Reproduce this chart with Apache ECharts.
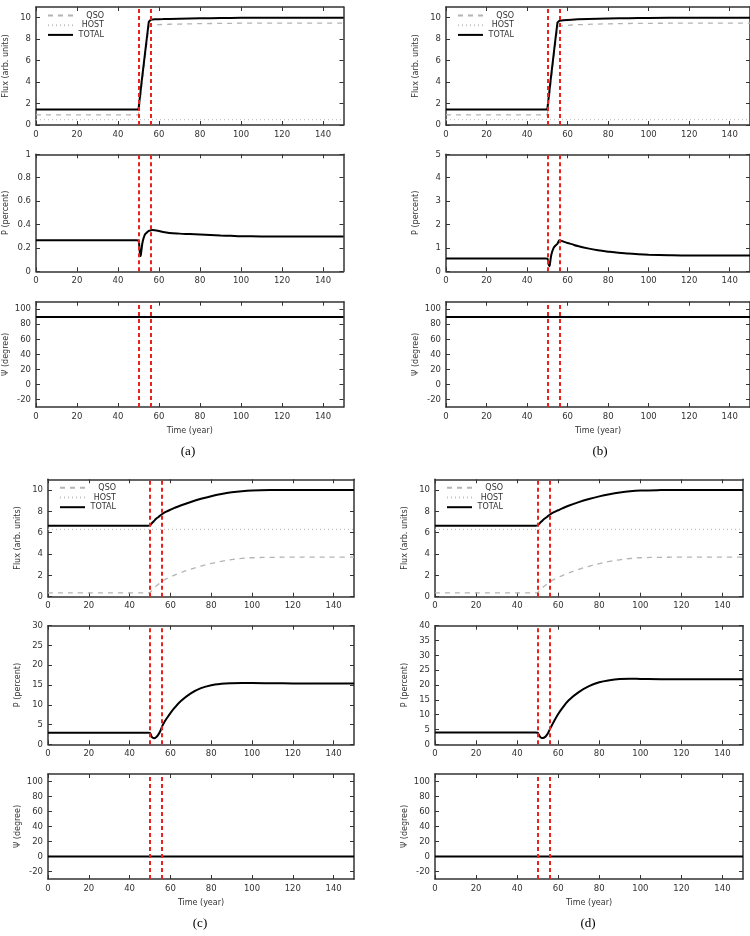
<!DOCTYPE html>
<html lang="en">
<head>
<meta charset="UTF-8" />
<title>QSO flux, polarisation degree and angle</title>
<script src="https://cdn.jsdelivr.net/npm/echarts@6/dist/echarts.min.js"></script>
<style>
  * { margin: 0; padding: 0; box-sizing: border-box; }
  body { background: #fff; overflow: hidden; }
  #chart { width: 750px; height: 936px; }
</style>
</head>
<body>
<div id="chart"></div>
<script>
// time samples (year), shared by every curve
const years = [0, 49, 50, 50.5, 51, 51.5, 52, 53, 54, 55, 56, 57, 58, 60, 62, 65, 70, 75, 80, 85, 90, 95, 100, 110, 120, 130, 140, 150];
const psiYears = [0, 150];
// the two red dashed markers
const eventYears = [50, 56];

// panel (a)
const qsoA   = [0.95, 0.95, 0.95, 1.8, 2.6, 3.5, 4.3, 5.9, 7.5, 9.1, 9.32, 9.34, 9.35, 9.36, 9.37, 9.39, 9.41, 9.43, 9.45, 9.46, 9.47, 9.48, 9.49, 9.5, 9.5, 9.5, 9.5, 9.5];
const hostA  = [0.5, 0.5, 0.5, 0.5, 0.5, 0.5, 0.5, 0.5, 0.5, 0.5, 0.5, 0.5, 0.5, 0.5, 0.5, 0.5, 0.5, 0.5, 0.5, 0.5, 0.5, 0.5, 0.5, 0.5, 0.5, 0.5, 0.5, 0.5];
const totalA = [1.45, 1.45, 1.45, 2.3, 3.1, 4.0, 4.8, 6.4, 8.0, 9.6, 9.82, 9.84, 9.85, 9.86, 9.87, 9.89, 9.91, 9.93, 9.95, 9.96, 9.97, 9.98, 9.99, 10, 10, 10, 10, 10];
const pA     = [0.265, 0.265, 0.26, 0.19, 0.13, 0.19, 0.25, 0.31, 0.33, 0.345, 0.35, 0.352, 0.35, 0.345, 0.336, 0.328, 0.322, 0.318, 0.314, 0.31, 0.306, 0.303, 0.30, 0.298, 0.297, 0.297, 0.297, 0.297];
const psiA   = [89.8, 89.8];

// panel (b)
const qsoB   = [0.95, 0.95, 0.95, 1.8, 2.6, 3.5, 4.3, 5.9, 7.5, 9.05, 9.22, 9.24, 9.26, 9.29, 9.32, 9.35, 9.38, 9.41, 9.43, 9.45, 9.46, 9.47, 9.48, 9.49, 9.5, 9.5, 9.5, 9.5];
const hostB  = [0.5, 0.5, 0.5, 0.5, 0.5, 0.5, 0.5, 0.5, 0.5, 0.5, 0.5, 0.5, 0.5, 0.5, 0.5, 0.5, 0.5, 0.5, 0.5, 0.5, 0.5, 0.5, 0.5, 0.5, 0.5, 0.5, 0.5, 0.5];
const totalB = [1.45, 1.45, 1.45, 2.3, 3.1, 4.0, 4.8, 6.4, 8.0, 9.55, 9.72, 9.74, 9.76, 9.79, 9.82, 9.85, 9.88, 9.91, 9.93, 9.95, 9.96, 9.97, 9.98, 9.99, 10, 10, 10, 10];
const pB     = [0.55, 0.55, 0.54, 0.35, 0.22, 0.45, 0.72, 0.98, 1.1, 1.18, 1.33, 1.3, 1.27, 1.21, 1.16, 1.08, 0.98, 0.9, 0.84, 0.79, 0.76, 0.73, 0.71, 0.69, 0.68, 0.68, 0.68, 0.68];
const psiB   = [89.8, 89.8];

// panel (c)
const qsoC   = [0.35, 0.35, 0.38, 0.5, 0.6, 0.7, 0.8, 1.0, 1.15, 1.3, 1.45, 1.57, 1.67, 1.85, 2.02, 2.25, 2.58, 2.87, 3.12, 3.32, 3.48, 3.59, 3.65, 3.69, 3.7, 3.7, 3.7, 3.7];
const hostC  = [6.3, 6.3, 6.3, 6.3, 6.3, 6.3, 6.3, 6.3, 6.3, 6.3, 6.3, 6.3, 6.3, 6.3, 6.3, 6.3, 6.3, 6.3, 6.3, 6.3, 6.3, 6.3, 6.3, 6.3, 6.3, 6.3, 6.3, 6.3];
const totalC = [6.65, 6.65, 6.68, 6.8, 6.9, 7.0, 7.1, 7.3, 7.45, 7.6, 7.75, 7.87, 7.97, 8.15, 8.32, 8.55, 8.88, 9.17, 9.42, 9.62, 9.78, 9.89, 9.95, 9.99, 10, 10, 10, 10];
const pC     = [2.95, 2.95, 2.9, 2.3, 1.8, 1.6, 1.55, 1.8, 2.4, 3.3, 4.6, 5.6, 6.4, 7.9, 9.2, 10.9, 12.9, 14.2, 14.95, 15.3, 15.45, 15.5, 15.5, 15.45, 15.4, 15.38, 15.35, 15.35];
const psiC   = [0, 0];

// panel (d)
const qsoD   = [0.35, 0.35, 0.38, 0.48, 0.58, 0.68, 0.77, 0.95, 1.1, 1.25, 1.4, 1.52, 1.62, 1.8, 1.98, 2.22, 2.56, 2.85, 3.1, 3.3, 3.46, 3.58, 3.65, 3.69, 3.7, 3.7, 3.7, 3.7];
const hostD  = [6.3, 6.3, 6.3, 6.3, 6.3, 6.3, 6.3, 6.3, 6.3, 6.3, 6.3, 6.3, 6.3, 6.3, 6.3, 6.3, 6.3, 6.3, 6.3, 6.3, 6.3, 6.3, 6.3, 6.3, 6.3, 6.3, 6.3, 6.3];
const totalD = [6.65, 6.65, 6.68, 6.78, 6.88, 6.98, 7.07, 7.25, 7.4, 7.55, 7.7, 7.82, 7.92, 8.1, 8.28, 8.52, 8.86, 9.15, 9.4, 9.6, 9.76, 9.88, 9.95, 9.99, 10, 10, 10, 10];
const pD     = [3.95, 3.95, 3.9, 3.3, 2.7, 2.3, 2.1, 2.2, 2.7, 3.7, 5.2, 6.5, 7.8, 10.2, 12.2, 14.8, 17.6, 19.6, 20.9, 21.6, 22.0, 22.1, 22.05, 21.95, 21.95, 21.95, 21.95, 21.95];
const psiD   = [0, 0];

// tick labels
const timeTicks = [0, 20, 40, 60, 80, 100, 120, 140];
const fluxTicks = [0, 2, 4, 6, 8, 10];
const psiTicks = [-20, 0, 20, 40, 60, 80, 100];
const pTicksA = [0, 0.2, 0.4, 0.6, 0.8, 1];
const pTicksB = [0, 1, 2, 3, 4, 5];
const pTicksC = [0, 5, 10, 15, 20, 25, 30];
const pTicksD = [0, 5, 10, 15, 20, 25, 30, 35, 40];

const panels = [
  { tag: '(a)', left: 36, width: 307.5, tops: [7, 154.3, 301.7], heights: [118, 117, 105.3], tagPos: [188, 452],
    qso: qsoA, host: hostA, total: totalA, p: pA, psi: psiA, pTicks: pTicksA, smoothFlux: false },
  { tag: '(b)', left: 446, width: 308, tops: [7, 154.3, 301.7], heights: [118, 117, 105.3], tagPos: [600, 452],
    qso: qsoB, host: hostB, total: totalB, p: pB, psi: psiB, pTicks: pTicksB, smoothFlux: false },
  { tag: '(c)', left: 48, width: 306, tops: [479.3, 625.7, 774], heights: [117.4, 118.6, 105], tagPos: [200, 924],
    qso: qsoC, host: hostC, total: totalC, p: pC, psi: psiC, pTicks: pTicksC, smoothFlux: true },
  { tag: '(d)', left: 435, width: 308, tops: [479.3, 625.7, 774], heights: [117.4, 118.6, 105], tagPos: [588, 924],
    qso: qsoD, host: hostD, total: totalD, p: pD, psi: psiD, pTicks: pTicksD, smoothFlux: true }
];

const axisColor = '#333';
const textColor = '#333';
const fontFamily = 'DejaVu Sans';

function pairs(xs, ys) {
  return xs.map((t, i) => [t, ys[i]]);
}

const grid = [], xAxis = [], yAxis = [], series = [], legend = [], graphic = [];

function addGrid(p, row, yMin, yMax, ticks, yName, lastRow) {
  const g = grid.length;
  grid.push({ left: p.left, top: p.tops[row], width: p.width, height: p.heights[row] });
  const line = { onZero: false, lineStyle: { color: axisColor, width: 1.5 } };
  const tick = { inside: true, length: 4, lineStyle: { color: axisColor, width: 1 } };
  xAxis.push({
    gridIndex: g, type: 'value', position: 'bottom', min: 0, max: 150,
    name: lastRow ? 'Time (year)' : '', nameLocation: 'middle', nameGap: 20,
    nameTextStyle: { fontFamily, fontSize: 8, color: textColor },
    axisLine: line, axisTick: Object.assign({ customValues: timeTicks }, tick),
    axisLabel: { customValues: timeTicks, margin: 5, fontFamily, fontSize: 8.5, color: textColor },
    splitLine: { show: false }
  });
  xAxis.push({
    gridIndex: g, type: 'value', position: 'top', min: 0, max: 150,
    axisLine: line, axisTick: Object.assign({ customValues: timeTicks }, tick),
    axisLabel: { show: false }, splitLine: { show: false }
  });
  yAxis.push({
    gridIndex: g, type: 'value', position: 'left', min: yMin, max: yMax,
    name: yName, nameLocation: 'middle', nameGap: 26,
    nameTextStyle: { fontFamily, fontSize: 8, color: textColor },
    axisLine: line, axisTick: Object.assign({ customValues: ticks }, tick),
    axisLabel: { customValues: ticks, margin: 5, fontFamily, fontSize: 8.5, color: textColor },
    splitLine: { show: false }
  });
  yAxis.push({
    gridIndex: g, type: 'value', position: 'right', min: yMin, max: yMax,
    axisLine: line, axisTick: Object.assign({ customValues: ticks }, tick),
    axisLabel: { show: false }, splitLine: { show: false }
  });
  return g;
}

const markers = {
  silent: true, symbol: 'none', label: { show: false },
  lineStyle: { color: '#e8231f', width: 2, type: [4, 3] },
  data: eventYears.map(x => ({ xAxis: x }))
};

panels.forEach(p => {
  // flux
  let g = addGrid(p, 0, 0, 11, fluxTicks, 'Flux (arb. units)', false);
  series.push({
    name: 'QSO', type: 'line', xAxisIndex: 2 * g, yAxisIndex: 2 * g, symbol: 'none',
    smooth: p.smoothFlux ? 0.4 : false,
    lineStyle: { color: '#b4b4b4', width: 1.3, type: [5, 5] }, itemStyle: { color: '#b4b4b4' },
    data: pairs(years, p.qso)
  });
  series.push({
    name: 'HOST', type: 'line', xAxisIndex: 2 * g, yAxisIndex: 2 * g, symbol: 'none',
    lineStyle: { color: '#c4c4c4', width: 1.2, type: [1, 3] }, itemStyle: { color: '#c4c4c4' },
    data: pairs(years, p.host)
  });
  series.push({
    name: 'TOTAL', type: 'line', xAxisIndex: 2 * g, yAxisIndex: 2 * g, symbol: 'none',
    smooth: p.smoothFlux ? 0.4 : false,
    lineStyle: { color: '#000', width: 2 }, itemStyle: { color: '#000' },
    data: pairs(years, p.total), markLine: markers
  });
  legend.push({
    data: ['QSO', 'HOST', 'TOTAL'], orient: 'vertical',
    left: p.left + 11, top: p.tops[0] + 4.5, padding: 0,
    itemWidth: 25, itemHeight: 8, itemGap: 1.7,
    itemStyle: { opacity: 0 },
    formatter: name => '{r|' + name + '}',
    textStyle: { fontFamily, fontSize: 8, color: textColor, lineHeight: 8,
      rich: { r: { width: 26, align: 'right', fontFamily, fontSize: 8, color: textColor } } }
  });

  // polarisation degree
  const pt = p.pTicks;
  g = addGrid(p, 1, pt[0], pt[pt.length - 1], pt, 'P (percent)', false);
  series.push({
    name: 'P', type: 'line', xAxisIndex: 2 * g, yAxisIndex: 2 * g, symbol: 'none',
    smooth: 0.4,
    lineStyle: { color: '#000', width: 2 }, itemStyle: { color: '#000' },
    data: pairs(years, p.p), markLine: markers
  });

  // polarisation angle
  g = addGrid(p, 2, -30, 110, psiTicks, 'Ψ (degree)', true);
  series.push({
    name: 'Psi', type: 'line', xAxisIndex: 2 * g, yAxisIndex: 2 * g, symbol: 'none',
    lineStyle: { color: '#000', width: 2 }, itemStyle: { color: '#000' },
    data: pairs(psiYears, p.psi), markLine: markers
  });

  graphic.push({
    type: 'text', x: p.tagPos[0], y: p.tagPos[1],
    style: { text: p.tag, fontFamily: 'Liberation Serif', fontSize: 13, fill: '#000',
      align: 'center', verticalAlign: 'middle', textAlign: 'center', textVerticalAlign: 'middle' }
  });
});

const chart = echarts.init(document.getElementById('chart'));
chart.setOption({
  animation: false,
  backgroundColor: '#fff',
  grid, xAxis, yAxis, series, legend, graphic
});
</script>
</body>
</html>
